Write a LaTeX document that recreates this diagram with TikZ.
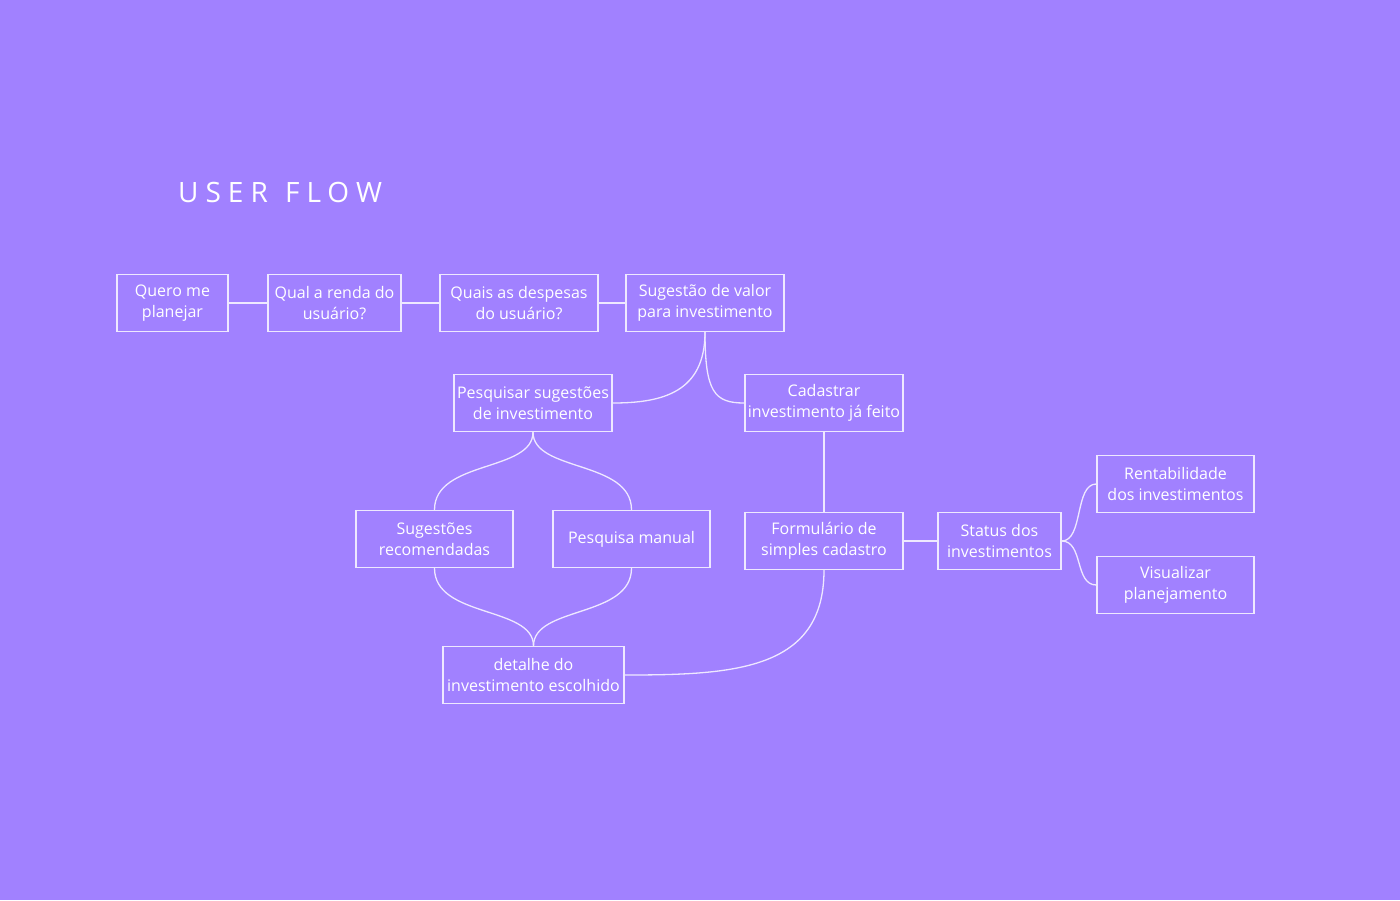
\documentclass[tikz,border=0pt]{standalone}
\usepackage{fontspec}
\setmainfont{Open Sans}
\newfontfamily\titlefont[LetterSpace=25]{Open Sans}
\usetikzlibrary{calc}
\definecolor{bgpurple}{RGB}{161,129,255}
\definecolor{linecol}{RGB}{238,232,255}

\begin{document}
\begin{tikzpicture}[x=1pt,y=-1pt,
  box/.style={draw=linecol,line width=1.3pt,text=white,align=center,inner sep=0pt,
    minimum height=57pt,font=\fontsize{16}{21}\selectfont},
  link/.style={draw=linecol,line width=1.3pt}]
\fill[bgpurple] (0,0) rectangle (1400,900);
\useasboundingbox (0,0) rectangle (1400,900);
\node (title) at (178,192) [anchor=west,text=white,inner sep=0pt,font=\titlefont\fontsize{28}{30}\selectfont] {USER\hspace{3pt} FLOW};
% first row
\node (quero) at (172.5,303) [box,minimum width=111pt] {Quero me\\planejar};
\node (renda) at (334.5,303) [box,minimum width=133pt] {Qual a renda do\\usuário?};
\node (despesas) at (519,303) [box,minimum width=158pt] {Quais as despesas\\do usuário?};
\node (sugestao) at (705,303) [box,minimum width=158pt] {Sugestão de valor\\para investimento};
% second row
\node (pesquisar) at (533,403) [box,minimum width=158pt] {Pesquisar sugestões\\de investimento};
\node (cadastrar) at (824,403) [box,minimum width=158pt] {Cadastrar\\investimento já feito};
% third row
\node (recomendadas) at (434.5,539) [box,minimum width=157pt] {Sugestões\\recomendadas};
\node (manual) at (631.5,539) [box,minimum width=157pt] {Pesquisa manual};
\node (formulario) at (824,541) [box,minimum width=158pt] {Formulário de\\simples cadastro};
\node (status) at (999.5,541) [box,minimum width=123pt] {Status dos\\investimentos};
\node (rentabilidade) at (1175.5,484) [box,minimum width=157pt] {Rentabilidade\\dos investimentos};
\node (visualizar) at (1175.5,585) [box,minimum width=157pt] {Visualizar\\planejamento};
% last row
\node (detalhe) at (533.5,675) [box,minimum width=181pt] {detalhe do\\investimento escolhido};
% connectors
\path[link] (quero) -- (renda);
\path[link] (renda) -- (despesas);
\path[link] (despesas) -- (sugestao);
\path[link] (sugestao.south) .. controls ($(sugestao.south)+(0,60)$) and ($(pesquisar.east)+(50,0)$) .. (pesquisar.east);
\path[link] (sugestao.south) .. controls ($(sugestao.south)+(0,60)$) and ($(cadastrar.west)+(-30,0)$) .. (cadastrar.west);
\path[link] (pesquisar.south) .. controls ($(pesquisar.south)+(0,40)$) and ($(recomendadas.north)+(0,-50)$) .. (recomendadas.north);
\path[link] (pesquisar.south) .. controls ($(pesquisar.south)+(0,40)$) and ($(manual.north)+(0,-50)$) .. (manual.north);
\path[link] (recomendadas.south) .. controls ($(recomendadas.south)+(0,50)$) and ($(detalhe.north)+(0,-40)$) .. (detalhe.north);
\path[link] (manual.south) .. controls ($(manual.south)+(0,50)$) and ($(detalhe.north)+(0,-40)$) .. (detalhe.north);
\path[link] (cadastrar) -- (formulario);
\path[link] (formulario.south) .. controls ($(formulario.south)+(0,100)$) and ($(detalhe.east)+(110,0)$) .. (detalhe.east);
\path[link] (formulario) -- (status);
\path[link] (status.east) .. controls ($(status.east)+(22,0)$) and ($(rentabilidade.west)+(-22,0)$) .. (rentabilidade.west);
\path[link] (status.east) .. controls ($(status.east)+(22,0)$) and ($(visualizar.west)+(-22,0)$) .. (visualizar.west);
\end{tikzpicture}
\end{document}
